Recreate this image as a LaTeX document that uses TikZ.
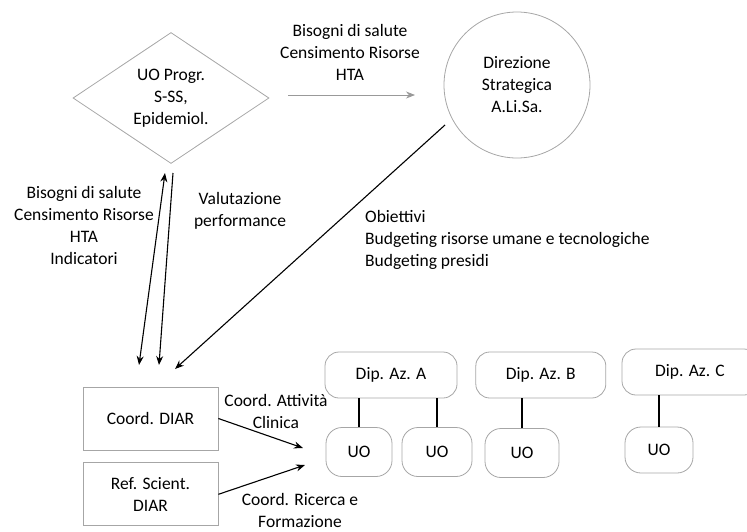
\documentclass[tikz,border=0pt]{standalone}
\usepackage{fontspec}
\setmainfont{Carlito}
\usetikzlibrary{shapes.geometric,arrows.meta,positioning,calc}

\begin{document}
\begin{tikzpicture}[x=1pt, y=-1pt, font=\fontsize{17.5}{22}\selectfont,
    >={Stealth[length=9pt,width=7pt]},
    shape line/.style={draw=gray!70, line width=0.8pt},
    box/.style={shape line, minimum width=135pt, minimum height=63pt, align=center},
    dip/.style={shape line, rounded corners=14pt, minimum height=46pt},
    uo/.style={shape line, rounded corners=16pt, minimum height=49pt},
    link/.style={line width=1.1pt},
    lbl/.style={align=center, inner sep=0pt}]
    \useasboundingbox (0,0) rectangle (747,531);

    % top: programming unit and strategic direction
    \node [diamond, shape line, aspect=1.5, inner sep=0pt, minimum width=196pt, minimum height=131pt, align=center] (prog) at (171,98) {UO Progr.\\S-SS,\\Epidemiol.};
    \node [circle, shape line, minimum size=146pt, align=center] (dir) at (517,85) {Direzione\\Strategica\\A.Li.Sa.};

    \coordinate (hs) at (288,95);
    \coordinate (he) at (415,95);
    \draw [->, draw=gray!80, line width=0.8pt] (hs) -- (he);
    \node [lbl] (needs) at (350,52) {Bisogni di salute\\Censimento Risorse\\HTA};

    % DIAR boxes
    \node [box] (coord) at (150.5,418.5) {Coord. DIAR};
    \node [box, below=12pt of coord] (ref) {Ref. Scient.\\DIAR};

    % vertical links
    \coordinate (up1) at (165,173);
    \coordinate (dn1) at (139,365);
    \coordinate (up2) at (173,173);
    \coordinate (dn2) at (159,365);
    \coordinate (ds) at (445,125);
    \coordinate (de) at (175,369);
    \draw [link, <->] (up1) -- (dn1);
    \draw [link, ->] (up2) -- (dn2);
    \draw [link, ->] (ds) -- (de);

    \node [lbl] (ind) at (84,225) {Bisogni di salute\\Censimento Risorse\\HTA\\Indicatori};
    \node [lbl] (perf) at (240,211) {Valutazione\\performance};
    \node [lbl, anchor=west, align=left] (obj) at (365,240) {Obiettivi\\Budgeting risorse umane e tecnologiche\\Budgeting presidi};

    % departments and units
    \node [dip, minimum width=132pt] (dipA) at (391,375) {Dip. Az. A};
    \node [dip, minimum width=130pt, right=18pt of dipA] (dipB) {Dip. Az. B};
    \node [dip, minimum width=136pt] (dipC) at (690,372) {Dip. Az. C};

    \node [uo, minimum width=66pt] (uo1) at (359,452) {UO};
    \node [uo, minimum width=70pt] (uo2) at (437,452) {UO};
    \node [uo, minimum width=74pt] (uo3) at (522,453) {UO};
    \node [uo, minimum width=68pt, minimum height=46pt] (uo4) at (659,450) {UO};

    \foreach \d/\u in {dipA/uo1, dipA/uo2, dipB/uo3, dipC/uo4}
        \draw [link] (\u.north) -- (\u.north |- \d.south);

    % coordination arrows
    \coordinate (ca) at (303,448);
    \coordinate (cb) at (305,465);
    \draw [link, ->] (coord.east) -- (ca);
    \draw [link, ->] (ref.east) -- (cb);
    \node [lbl] (clin) at (276,411) {Coord. Attività\\Clinica};
    \node [lbl] (ric) at (300,510) {Coord. Ricerca e\\Formazione};
\end{tikzpicture}
\end{document}
